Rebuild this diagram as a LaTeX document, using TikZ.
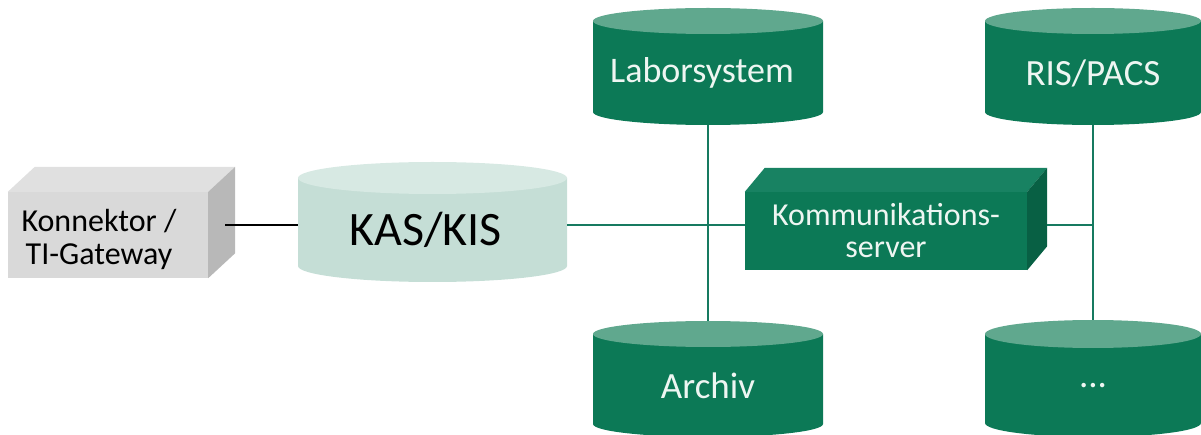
\documentclass[tikz,border=0pt]{standalone}
\usepackage{fontspec}
\setmainfont{Carlito}
\pgfdeclarelayer{background}
\pgfsetlayers{background,main}
\definecolor{dgreen}{RGB}{12,121,86}
\definecolor{gtop}{RGB}{96,168,142}
\definecolor{komtop}{RGB}{24,130,98}
\definecolor{komright}{RGB}{8,96,68}
\definecolor{kasbody}{RGB}{197,222,214}
\definecolor{kastop}{RGB}{215,233,227}
\definecolor{konfront}{RGB}{217,217,217}
\definecolor{kontop}{RGB}{224,224,224}
\definecolor{konright}{RGB}{184,184,184}
\definecolor{gtext}{RGB}{238,246,242}
\definecolor{lgreen}{RGB}{22,122,96}
\begin{document}
\begin{tikzpicture}[x=1pt,y=-1pt,
  gcyl/.style={fill=dgreen},
  gcyltop/.style={fill=gtop},
  cyltext/.style={inner sep=0pt, anchor=north, text=gtext, font=\fontsize{37}{40}\selectfont},
  boxtext/.style={inner sep=0pt, align=center, font=\fontsize{32}{33}\selectfont},
  gline/.style={draw=lgreen, line width=2pt},
  bline/.style={draw=black, line width=1.6pt}]
\useasboundingbox (0,0) rectangle (1201,435);

% Konnektor / TI-Gateway (3D box)
\node[boxtext, fill=konfront, minimum width=200pt, minimum height=86pt, text=black] (kon) at (108,235)
  {\hspace*{-18pt}\raisebox{-6pt}[\height][\depth]{\begin{tabular}{@{}c@{}}Konnektor /\\[0pt]TI-Gateway\end{tabular}}};
\fill[kontop] (kon.north west) -- ++(27,-25) -- ([shift={(27,-25)}]kon.north east) -- (kon.north east) -- cycle;
\fill[konright] (kon.north east) -- ++(27,-25) -- ([shift={(27,-25)}]kon.south east) -- (kon.south east) -- cycle;

% KAS/KIS cylinder
\fill[kasbody] (298,178) -- (298,266) arc[start angle=180, end angle=0, x radius=134.5, y radius=16] -- (567,178) -- cycle;
\fill[kastop] (432.5,178) ellipse[x radius=134.5, y radius=16];
\node[cyltext, text=black, font=\fontsize{48}{50}\selectfont, minimum width=269pt, minimum height=104pt] (kas) at (432.5,178) {\hspace*{-14pt}KAS/KIS};

% Laborsystem cylinder
\fill[gcyl] (593,21) -- (593,112) arc[start angle=180, end angle=0, x radius=115, y radius=13] -- (823,21) -- cycle;
\fill[gcyltop] (708,21) ellipse[x radius=115, y radius=13];
\node[cyltext, font=\fontsize{36}{40}\selectfont, minimum width=230pt, minimum height=104pt] (lab) at (708,21) {\hspace*{-12pt}Laborsystem};

% RIS/PACS cylinder
\fill[gcyl] (985,21) -- (985,112) arc[start angle=180, end angle=0, x radius=108, y radius=13] -- (1201,21) -- cycle;
\fill[gcyltop] (1093,21) ellipse[x radius=108, y radius=13];
\node[cyltext, minimum width=216pt, minimum height=104pt] (ris) at (1093,21) {RIS/PACS};

% Archiv cylinder
\fill[gcyl] (593,334) -- (593,424) arc[start angle=180, end angle=0, x radius=115, y radius=13] -- (823,334) -- cycle;
\fill[gcyltop] (708,334) ellipse[x radius=115, y radius=13];
\node[cyltext, minimum width=230pt, minimum height=103pt] (arch) at (708,334) {Archiv};

% ... cylinder
\fill[gcyl] (985,334) -- (985,423) arc[start angle=180, end angle=0, x radius=108, y radius=14] -- (1201,334) -- cycle;
\fill[gcyltop] (1093,334) ellipse[x radius=108, y radius=14];
\node[cyltext, minimum width=216pt, minimum height=103pt] (dots) at (1093,334) {...};

% Kommunikationsserver (3D box)
\node[boxtext, fill=dgreen, text=gtext, minimum width=282pt, minimum height=78pt] (kom) at (886,231)
  {\raisebox{-4pt}[\height][\depth]{\begin{tabular}{@{}c@{}}Kommunikations-\\[-1pt]server\end{tabular}}};
\fill[komtop] (kom.north west) -- ++(20,-24) -- ([shift={(20,-24)}]kom.north east) -- (kom.north east) -- cycle;
\fill[komright] (kom.north east) -- ++(20,-24) -- ([shift={(20,-24)}]kom.south east) -- (kom.south east) -- cycle;

% junctions
\coordinate (j1) at (708,225);
\coordinate (j2) at (1093,225);

% connectors
\draw[bline] ([xshift=17pt]kon.east |- j1) -- (kas.west |- j1);
\draw[gline] (kas.east |- j1) -- (kom.west |- j1);
\draw[gline] ([xshift=20pt]kom.east |- j2) -- (j2);
\begin{pgfonlayer}{background}
\draw[gline] (lab.south) -- (arch.north);
\draw[gline] (ris.south) -- (dots.north);
\end{pgfonlayer}
\end{tikzpicture}
\end{document}
